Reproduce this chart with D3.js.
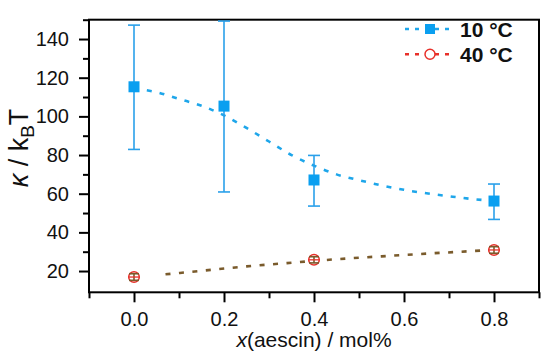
<!DOCTYPE html>
<html>
<head>
<meta charset="utf-8">
<script src="https://cdn.jsdelivr.net/npm/d3@7"></script>
<style>
  body { margin: 0; background: #fff; }
  svg text { font-family: "Liberation Sans", Arial, sans-serif; }
</style>
</head>
<body>
<div id="chart"></div>
<script>
// measured points, 10 °C
var x10 = [0.0, 0.2, 0.4, 0.8];
var k10 = [115.3, 105.3, 67.1, 56.2];
var k10Lo = [82.9, 60.9, 53.6, 46.7];
var k10Hi = [147.2, 149.3, 79.8, 65.0];

// measured points, 40 °C
var x40 = [0.0, 0.4, 0.8];
var k40 = [16.9, 25.8, 30.9];
var k40Lo = [15.2, 24.2, 29.2];
var k40Hi = [18.6, 27.4, 32.6];

// fit curves
var fit10x = [0, 0.05, 0.1, 0.15, 0.2, 0.25, 0.3, 0.35, 0.4, 0.45, 0.5, 0.55, 0.6, 0.65, 0.7, 0.75, 0.8];
var fit10y = [114.5, 112.5, 109, 105.5, 100.5, 94, 87, 80, 74.5, 70, 67, 64.3, 62, 60.2, 58.7, 57.3, 56.2];
var fit40x = [0.07, 0.15, 0.25, 0.35, 0.45, 0.55, 0.65, 0.75, 0.8];
var fit40y = [18.3, 20.1, 22.4, 24.3, 26.1, 27.6, 29.0, 30.3, 31.0];

var xTicks = [0.0, 0.2, 0.4, 0.6, 0.8];
var xMinor = [-0.1, 0.1, 0.3, 0.5, 0.7, 0.9];
var yTicks = [20, 40, 60, 80, 100, 120, 140];
var yMinor = [30, 50, 70, 90, 110, 130, 150];

var legendLabels = ["10 °C", "40 °C"];

var width = 550, height = 357;
var blue = "#0a9ff0", red = "#e8302a", olive = "#7a5b2c";

var svg = d3.select("#chart").append("svg")
    .attr("width", width)
    .attr("height", height);

var x = d3.scaleLinear().domain([-0.1, 0.9]).range([89, 539]);
var y = d3.scaleLinear().domain([9, 150]).range([292.3, 19.7]);

// axes (ticks outward, left and bottom only)
svg.append("g").attr("transform", "translate(0," + y(9) + ")")
    .call(d3.axisBottom(x).tickValues(xTicks).tickSize(10).tickPadding(9.5).tickFormat(d3.format(".1f")));
svg.append("g").attr("transform", "translate(0," + y(9) + ")")
    .call(d3.axisBottom(x).tickValues(xMinor).tickSize(6).tickFormat(""));
svg.append("g").attr("transform", "translate(" + x(-0.1) + ",0)")
    .call(d3.axisLeft(y).tickValues(yTicks).tickSize(10).tickPadding(10));
svg.append("g").attr("transform", "translate(" + x(-0.1) + ",0)")
    .call(d3.axisLeft(y).tickValues(yMinor).tickSize(6).tickFormat(""));

svg.selectAll(".domain").remove();
svg.selectAll(".tick line").attr("stroke", "#000").attr("stroke-width", 2);
svg.selectAll(".tick text").attr("fill", "#111").style("font-size", "20px");

// frame
svg.append("rect")
    .attr("x", x(-0.1)).attr("y", y(150))
    .attr("width", x(0.9) - x(-0.1)).attr("height", y(9) - y(150))
    .attr("fill", "none").attr("stroke", "#000").attr("stroke-width", 2);

// axis titles
var xt = svg.append("text")
    .attr("x", (x(-0.1) + x(0.9)) / 2).attr("y", 347)
    .attr("text-anchor", "middle").style("font-size", "21px").attr("fill", "#111");
xt.append("tspan").style("font-style", "italic").text("x");
xt.append("tspan").text("(aescin) / mol%");

var yt = svg.append("text")
    .attr("transform", "translate(28," + 148 + ") rotate(-90)")
    .attr("text-anchor", "middle").style("font-size", "27px").attr("fill", "#111");
yt.append("tspan").style("font-style", "italic").text("κ");
yt.append("tspan").text(" / k");
yt.append("tspan").attr("dy", 6).style("font-size", "19px").text("B");
yt.append("tspan").attr("dy", -6).text("T");

var line = d3.line()
    .x(function (d) { return x(d[0]); })
    .y(function (d) { return y(d[1]); })
    .curve(d3.curveMonotoneX);

// fit curves
svg.append("path")
    .datum(d3.zip(fit10x, fit10y))
    .attr("d", line)
    .attr("fill", "none").attr("stroke", "#1ea6ea").attr("stroke-width", 2.6)
    .attr("stroke-dasharray", "5,8");
svg.append("path")
    .datum(d3.zip(fit40x, fit40y))
    .attr("d", line)
    .attr("fill", "none").attr("stroke", olive).attr("stroke-width", 2.6)
    .attr("stroke-dasharray", "5,8.5");

// error bars
function errorBars(xs, lo, hi, color, cap) {
    var g = svg.append("g").attr("stroke", color).attr("stroke-width", 1.6);
    xs.forEach(function (xv, i) {
        g.append("line").attr("x1", x(xv)).attr("x2", x(xv)).attr("y1", y(lo[i])).attr("y2", y(hi[i]));
        g.append("line").attr("x1", x(xv) - cap).attr("x2", x(xv) + cap).attr("y1", y(lo[i])).attr("y2", y(lo[i]));
        g.append("line").attr("x1", x(xv) - cap).attr("x2", x(xv) + cap).attr("y1", y(hi[i])).attr("y2", y(hi[i]));
    });
}
errorBars(x10, k10Lo, k10Hi, "#2aa0ea", 6);

// 10 °C squares
svg.append("g").selectAll("rect")
    .data(d3.zip(x10, k10))
    .enter()
    .append("rect")
    .attr("x", function (d) { return x(d[0]) - 5.5; })
    .attr("y", function (d) { return y(d[1]) - 5.5; })
    .attr("width", 11).attr("height", 11)
    .attr("fill", blue);

// 40 °C circles
svg.append("g").selectAll("circle")
    .data(d3.zip(x40, k40))
    .enter()
    .append("circle")
    .attr("cx", function (d) { return x(d[0]); })
    .attr("cy", function (d) { return y(d[1]); })
    .attr("r", 5.3)
    .attr("fill", "#fff").attr("stroke", red).attr("stroke-width", 1.5);
errorBars(x40, k40Lo, k40Hi, olive, 5);
svg.append("g").selectAll("line")
    .data(d3.zip(x40, k40))
    .enter()
    .append("line")
    .attr("x1", function (d) { return x(d[0]) - 5; })
    .attr("x2", function (d) { return x(d[0]) + 5; })
    .attr("y1", function (d) { return y(d[1]); })
    .attr("y2", function (d) { return y(d[1]); })
    .attr("stroke", red).attr("stroke-width", 1.3);

// legend
var legend = svg.append("g");
legendLabels.forEach(function (lab, i) {
    var ly = 29 + i * 25.3;
    var col = i === 0 ? "#1ea6ea" : red;
    legend.append("line")
        .attr("x1", 405).attr("x2", 449).attr("y1", ly).attr("y2", ly)
        .attr("stroke", col).attr("stroke-width", 2.4).attr("stroke-dasharray", "4,6");
    if (i === 0) {
        legend.append("rect").attr("x", 425).attr("y", ly - 5).attr("width", 10).attr("height", 10).attr("fill", blue);
    } else {
        legend.append("circle").attr("cx", 430).attr("cy", ly).attr("r", 5)
            .attr("fill", "#fff").attr("stroke", red).attr("stroke-width", 1.5);
    }
    legend.append("text")
        .attr("x", 460).attr("y", ly + 7.5)
        .style("font-size", "21px").style("font-weight", "bold").attr("fill", "#111")
        .text(lab);
});
</script>
</body>
</html>
